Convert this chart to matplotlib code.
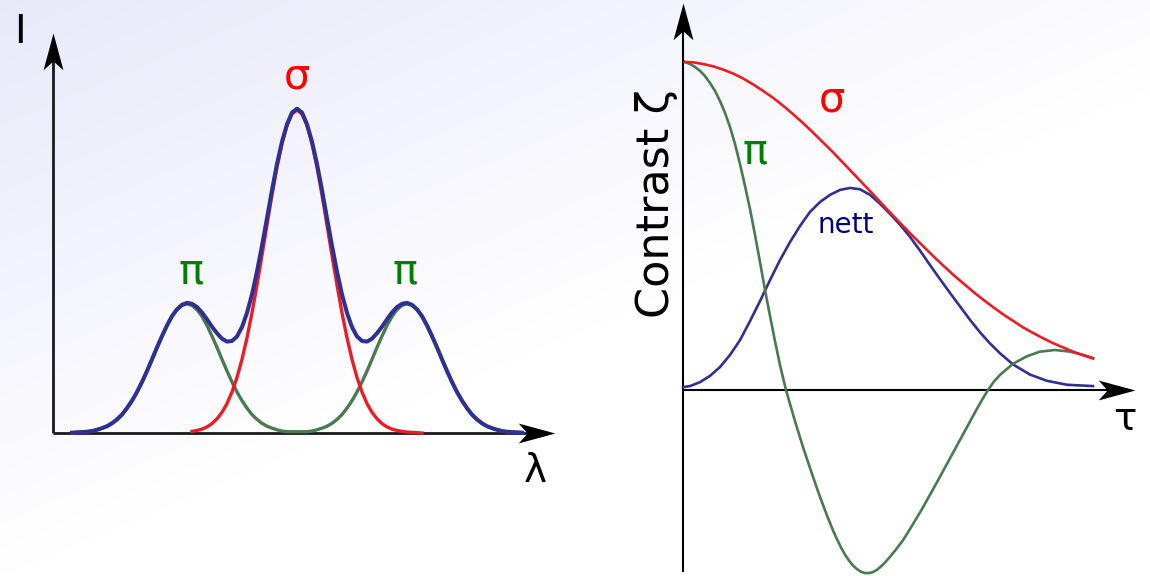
"""
zeeman_contrast.py

Sketch of a Zeeman-split line (sigma and pi components) and the fringe
contrast of each component, and of the nett line, against path difference.
"""
import matplotlib.pyplot as plt
import numpy as np
from matplotlib.markers import MarkerStyle
from matplotlib.path import Path
from matplotlib.transforms import Affine2D

# ---- left panel: line profile I(lambda) ----
lam = [
    0.19, 0.24, 0.29, 0.34, 0.39, 0.44, 0.49, 0.54, 0.59, 0.64,
    0.69, 0.74, 0.79, 0.84, 0.89, 0.94, 0.99, 1.04, 1.09, 1.14,
    1.19, 1.24, 1.29, 1.34, 1.39, 1.44, 1.49, 1.54, 1.59, 1.64,
    1.69, 1.74, 1.79, 1.84, 1.89, 1.94, 1.99, 2.04, 2.09, 2.14,
    2.19, 2.24, 2.29, 2.34, 2.39, 2.44, 2.49, 2.54, 2.59, 2.64,
    2.69, 2.74, 2.79, 2.84, 2.89, 2.94, 2.99, 3.04, 3.09, 3.14,
    3.19, 3.24, 3.29, 3.34, 3.39, 3.44, 3.49, 3.54, 3.59, 3.64,
    3.69, 3.74, 3.79, 3.84, 3.89, 3.94, 3.99, 4.04, 4.09, 4.14,
    4.19, 4.24, 4.29, 4.34, 4.39, 4.44, 4.49, 4.54, 4.59, 4.64,
    4.69,
]
# both pi components together
intensity_pi = [
    0.001, 0.002, 0.003, 0.004, 0.006, 0.010, 0.015, 0.021, 0.030, 0.042,
    0.057, 0.077, 0.100, 0.127, 0.158, 0.192, 0.228, 0.265, 0.300, 0.333,
    0.361, 0.382, 0.395, 0.400, 0.395, 0.382, 0.361, 0.333, 0.300, 0.265,
    0.228, 0.192, 0.158, 0.127, 0.100, 0.077, 0.057, 0.042, 0.030, 0.021,
    0.015, 0.010, 0.006, 0.004, 0.004, 0.004, 0.004, 0.004, 0.006, 0.010,
    0.015, 0.021, 0.030, 0.042, 0.057, 0.077, 0.100, 0.127, 0.158, 0.192,
    0.228, 0.265, 0.300, 0.333, 0.361, 0.382, 0.395, 0.400, 0.395, 0.382,
    0.361, 0.333, 0.300, 0.265, 0.228, 0.192, 0.158, 0.127, 0.100, 0.077,
    0.057, 0.042, 0.030, 0.021, 0.015, 0.010, 0.006, 0.004, 0.003, 0.002,
    0.001,
]
# sigma + pi, the line actually observed
intensity_nett = [
    0.001, 0.002, 0.003, 0.004, 0.006, 0.010, 0.015, 0.021, 0.030, 0.042,
    0.057, 0.077, 0.100, 0.127, 0.158, 0.192, 0.228, 0.265, 0.300, 0.333,
    0.362, 0.383, 0.397, 0.403, 0.400, 0.390, 0.373, 0.352, 0.329, 0.309,
    0.292, 0.283, 0.285, 0.299, 0.328, 0.372, 0.429, 0.500, 0.580, 0.665,
    0.752, 0.833, 0.902, 0.956, 0.992, 1.004, 0.992, 0.956, 0.902, 0.833,
    0.752, 0.665, 0.580, 0.500, 0.429, 0.372, 0.328, 0.299, 0.285, 0.283,
    0.292, 0.309, 0.329, 0.352, 0.373, 0.390, 0.400, 0.403, 0.397, 0.383,
    0.362, 0.333, 0.300, 0.265, 0.228, 0.192, 0.158, 0.127, 0.100, 0.077,
    0.057, 0.042, 0.030, 0.021, 0.015, 0.010, 0.006, 0.004, 0.003, 0.002,
    0.001,
]
lam_sigma = [
    1.39, 1.44, 1.49, 1.54, 1.59, 1.64, 1.69, 1.74, 1.79, 1.84,
    1.89, 1.94, 1.99, 2.04, 2.09, 2.14, 2.19, 2.24, 2.29, 2.34,
    2.39, 2.44, 2.49, 2.54, 2.59, 2.64, 2.69, 2.74, 2.79, 2.84,
    2.89, 2.94, 2.99, 3.04, 3.09, 3.14, 3.19, 3.24, 3.29, 3.34,
    3.39, 3.44, 3.49, 3.54, 3.59, 3.64, 3.69,
]
intensity_sigma = [
    0.005, 0.008, 0.012, 0.019, 0.029, 0.044, 0.064, 0.091, 0.127, 0.172,
    0.228, 0.295, 0.372, 0.458, 0.550, 0.644, 0.737, 0.823, 0.896, 0.952,
    0.988, 1.000, 0.988, 0.952, 0.896, 0.823, 0.737, 0.644, 0.550, 0.458,
    0.372, 0.295, 0.228, 0.172, 0.127, 0.091, 0.064, 0.044, 0.029, 0.019,
    0.012, 0.008, 0.005, 0.003, 0.002, 0.001, 0.000,
]

# ---- right panel: contrast zeta(tau) ----
tau_sigma = [
    0.02, 0.10, 0.20, 0.30, 0.40, 0.50, 0.60, 0.70, 0.80, 0.90,
    1.00, 1.10, 1.20, 1.30, 1.40, 1.50, 1.60, 1.70, 1.80, 1.90,
    2.00, 2.10, 2.20, 2.30, 2.40, 2.50, 2.60, 2.70, 2.80, 2.90,
    3.00, 3.10, 3.20, 3.30, 3.40, 3.50, 3.60, 3.70, 3.80, 3.90,
    4.00, 4.10,
]
zeta_sigma = [
    1.000, 0.999, 0.994, 0.987, 0.977, 0.965, 0.950, 0.932, 0.912, 0.891,
    0.867, 0.841, 0.814, 0.785, 0.755, 0.725, 0.693, 0.661, 0.629, 0.597,
    0.564, 0.532, 0.500, 0.469, 0.439, 0.409, 0.380, 0.352, 0.326, 0.300,
    0.276, 0.253, 0.231, 0.211, 0.191, 0.174, 0.158, 0.143, 0.130, 0.117,
    0.106, 0.096,
]

tau_pi = [
    0.02, 0.07, 0.12, 0.17, 0.22, 0.27, 0.32, 0.37, 0.42, 0.47,
    0.52, 0.57, 0.62, 0.67, 0.72, 0.77, 0.82, 0.87, 0.92, 0.97,
    1.03, 1.12, 1.20, 1.29, 1.37, 1.45, 1.50, 1.54, 1.58, 1.62,
    1.66, 1.70, 1.74, 1.78, 1.82, 1.86, 1.90, 1.94, 1.98, 2.02,
    2.06, 2.12, 2.20, 2.27, 2.39, 2.52, 2.64, 2.74, 2.84, 2.94,
    3.00, 3.05, 3.11, 3.17, 3.30, 3.44, 3.57, 3.72, 3.87, 3.99,
    4.10,
]
zeta_pi = [
    1.000, 0.994, 0.985, 0.973, 0.957, 0.936, 0.912, 0.881, 0.845, 0.802,
    0.750, 0.689, 0.622, 0.552, 0.473, 0.390, 0.305, 0.226, 0.149, 0.076,
    0.000, -0.095, -0.174, -0.256, -0.326, -0.390, -0.428, -0.455, -0.480, -0.502,
    -0.520, -0.535, -0.546, -0.554, -0.558, -0.558, -0.555, -0.548, -0.538, -0.526,
    -0.512, -0.490, -0.458, -0.424, -0.363, -0.292, -0.225, -0.169, -0.113, -0.057,
    -0.025, 0.000, 0.026, 0.046, 0.080, 0.103, 0.117, 0.122, 0.117, 0.108,
    0.098,
]

tau_nett = [
    0.00, 0.07, 0.17, 0.27, 0.37, 0.47, 0.57, 0.67, 0.77, 0.87,
    0.97, 1.07, 1.17, 1.27, 1.37, 1.47, 1.57, 1.67, 1.77, 1.87,
    1.97, 2.07, 2.17, 2.27, 2.37, 2.47, 2.57, 2.67, 2.77, 2.87,
    2.97, 3.07, 3.17, 3.30, 3.47, 3.64, 3.84, 4.10,
]
zeta_nett = [
    0.009, 0.012, 0.024, 0.043, 0.070, 0.107, 0.152, 0.210, 0.271, 0.335,
    0.396, 0.451, 0.500, 0.543, 0.573, 0.595, 0.610, 0.616, 0.612, 0.595,
    0.568, 0.537, 0.504, 0.467, 0.425, 0.381, 0.338, 0.296, 0.255, 0.214,
    0.176, 0.142, 0.112, 0.078, 0.047, 0.028, 0.016, 0.012,
]

RED = "#ed1c24"
BLUE = "#2e3192"
GREEN = "#4a7a50"


def arrow_head(ax, x, y, angle):
    """Notched black arrow head with its tip at (x, y), pointing up when angle=0."""
    verts = [(0, 0), (-10, -37), (0, -28), (10, -37), (0, 0)]
    codes = [Path.MOVETO, Path.LINETO, Path.LINETO, Path.LINETO, Path.CLOSEPOLY]
    head = MarkerStyle(Path(verts, codes), transform=Affine2D().rotate_deg(angle))
    ax.plot([x], [y], marker=head, markersize=53, color="black", mew=0,
            linestyle="none", clip_on=False, zorder=5)


def background(fig):
    # soft lavender wash fading to white towards the bottom right
    h, w = 144, 288
    xn = np.linspace(0, 1, w)[None, :]
    yn = np.linspace(0, 1, h)[:, None]
    t = np.clip(0.85 * xn + 1.0 * yn, 0, 1)
    top = np.array([0.912, 0.912, 0.98])
    img = top + (1 - top) * t[..., None]
    bg = fig.add_axes([0, 0, 1, 1], zorder=-1)
    bg.imshow(img, extent=[0, 1, 0, 1], aspect="auto", interpolation="bilinear")
    bg.axis("off")


def plot_profile(ax):
    ax.set_xlim(-0.53, 5.67)
    ax.set_ylim(-0.4427, 1.3406)
    ax.axis("off")

    ax.plot([0, 0], [0, 1.16], color="#1a1a1a", lw=2.0, solid_capstyle="butt")
    ax.plot([0, 4.9], [0, 0], color="#1a1a1a", lw=2.0, solid_capstyle="butt")
    arrow_head(ax, 0, 1.238, 0)
    arrow_head(ax, 5.02, 0, -90)

    ax.plot(lam, intensity_pi, color=GREEN, lw=2.4, solid_joinstyle="round")
    ax.plot(lam_sigma, intensity_sigma, color=RED, lw=2.4, solid_joinstyle="round")
    ax.plot(lam, intensity_nett, color=BLUE, lw=2.9, solid_joinstyle="round")

    ax.text(-0.33, 1.207, "I", fontsize=28, ha="center", va="baseline")
    ax.text(4.82, -0.152, "λ", fontsize=28, ha="center", va="baseline")
    ax.text(2.44, 1.068, "σ", fontsize=30, color="red", ha="center", va="baseline")
    ax.text(1.38, 0.464, "π", fontsize=30, color="green", ha="center", va="baseline")
    ax.text(3.52, 0.464, "π", fontsize=30, color="green", ha="center", va="baseline")


def plot_contrast(ax):
    ax.set_xlim(-0.63, 4.67)
    ax.set_ylim(-0.567, 1.189)
    ax.axis("off")

    ax.plot([0, 0], [-0.555, 1.12], color="black", lw=1.5, solid_capstyle="butt")
    ax.plot([0, 4.4], [0, 0], color="black", lw=1.5, solid_capstyle="butt")
    arrow_head(ax, 0, 1.180, 0)
    arrow_head(ax, 4.52, 0, -90)

    ax.plot(tau_nett, zeta_nett, color=BLUE, lw=1.9, solid_joinstyle="round")
    ax.plot(tau_pi, zeta_pi, color=GREEN, lw=1.9, solid_joinstyle="round")
    ax.plot(tau_sigma, zeta_sigma, color=RED, lw=1.9, solid_joinstyle="round")

    ax.text(-0.27, 0.567, "Contrast ζ", fontsize=32, rotation=90, ha="center", va="center")
    ax.text(4.42, -0.122, "τ", fontsize=28, ha="center", va="baseline")
    ax.text(1.49, 0.848, "σ", fontsize=30, color="red", ha="center", va="baseline")
    ax.text(0.72, 0.692, "π", fontsize=30, color="green", ha="center", va="baseline")
    ax.text(1.63, 0.479, "nett", fontsize=20, color="navy", ha="center", va="baseline")


def plot_zeeman():
    fig = plt.figure(figsize=(11.5, 5.76), dpi=100)
    background(fig)

    ax0 = fig.add_axes([0, 0, 620 / 1150, 1])
    ax1 = fig.add_axes([620 / 1150, 0, 530 / 1150, 1])
    ax0.patch.set_alpha(0)
    ax1.patch.set_alpha(0)

    plot_profile(ax0)
    plot_contrast(ax1)

    fig.savefig("out.png", dpi=100)


if __name__ == "__main__":
    plot_zeeman()
